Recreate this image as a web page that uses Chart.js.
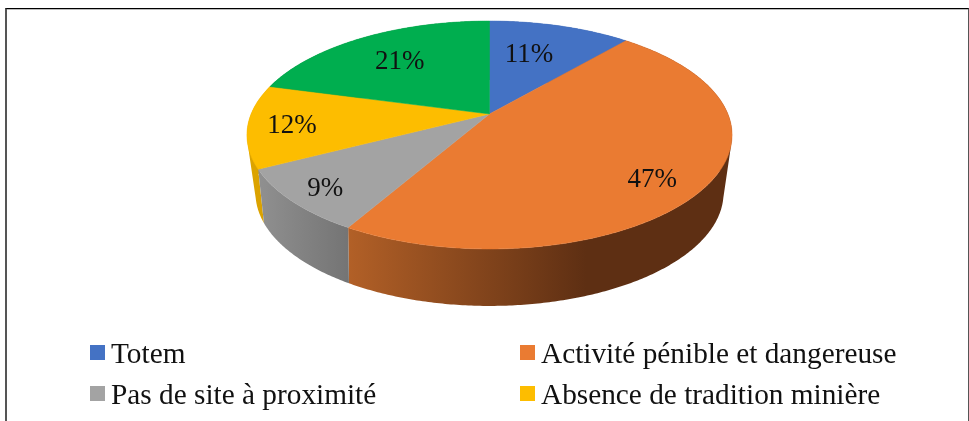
<!DOCTYPE html>
<html lang="fr">
<head>
<meta charset="utf-8">
<title>Pie chart</title>
<script src="https://cdn.jsdelivr.net/npm/chart.js@4"></script>
<style>
  html, body { margin: 0; padding: 0; background: #fff; }
  #wrap { position: relative; width: 969px; height: 421px; overflow: hidden; }
  #frame {
    position: absolute; left: 5px; top: 8px; width: 961px; height: 420px;
    border-top: 1px solid #000; border-left: 2px solid #555; border-right: 1px solid #555;
    box-shadow: inset 0 1px 0 #bbb;
  }
  canvas { position: absolute; left: 0; top: 0; }
  .legend-item {
    position: absolute; height: 30px; white-space: nowrap;
    font: 29.3px/30px "Liberation Serif", serif; color: #111;
  }
  .legend-box { position: absolute; left: -21px; top: 7px; width: 15px; height: 15px; }
</style>
</head>
<body>
<div id="wrap">
  <div id="frame"></div>
  <canvas id="pie" width="969" height="421"></canvas>
  <div id="legend"></div>
</div>
<script>
// the fifth slice has no readable legend entry, the legend is cut off in the picture
const categories = ["Totem", "Activité pénible et dangereuse", "Pas de site à proximité", "Absence de tradition minière", ""];
const shares = [11.3, 47, 9.1, 11.8, 20.8];
const sliceColors = ["#4472C4", "#EA7B32", "#A3A3A3", "#FDBD00", "#00AE4F"];

// side wall colours, left and right end of the gradient
const wallFrom = ["#2F5597", "#B26027", "#909090", "#DCA400", "#007C39"];
const wallTo = ["#2F5597", "#5E2F13", "#747474", "#D99F00", "#007C39"];

// where each percent label sits, as part of the radius and a turn in degrees
const labelRadius = [0.65, 0.81, 0.85, 0.82, 0.68];
const labelTurn = [-3.8, 5.2, 0, 0, 0];

// perspective of the disc, found by measuring the outline
const topFace = { x: 489.5, y: 114, a: 110.1, b: 238.4, tilt: 0.1842 };
const bottomFace = { x: 489.5, y: 168.1, a: 107.5, b: 228.3, tilt: 0.22 };

function project(face, angle, r) {
  const u = r * Math.sin(angle);
  const w = 1 - face.tilt * u;
  return { x: face.x + face.b * r * Math.cos(angle) / w, y: face.y + face.a * u / w };
}

function arcPoints(face, from, to) {
  const steps = Math.max(2, Math.ceil(Math.abs(to - from) / 0.01));
  const pts = [];
  for (let i = 0; i <= steps; i++) pts.push(project(face, from + (to - from) * i / steps, 1));
  return pts;
}

function addPolygon(ctx, pts) {
  pts.forEach((p, i) => (i ? ctx.lineTo(p.x, p.y) : ctx.moveTo(p.x, p.y)));
  ctx.closePath();
}

function signedArea(pts) {
  return pts.reduce((sum, p, i) => {
    const q = pts[(i + 1) % pts.length];
    return sum + p.x * q.y - q.x * p.y;
  }, 0);
}

// Draws the tilted disc from the angles the pie controller worked out
const discPlugin = {
  id: "discPlugin",
  beforeDatasetDraw(chart, args) {
    const { ctx } = chart;
    const arcs = chart.getDatasetMeta(args.index).data;
    ctx.save();

    // walls first, from the back to the front
    const order = arcs
      .map((arc, idx) => ({ arc, idx }))
      .sort((a, b) =>
        Math.sin((a.arc.startAngle + a.arc.endAngle) / 2) - Math.sin((b.arc.startAngle + b.arc.endAngle) / 2));
    order.forEach(({ arc, idx }) => {
      const upper = arcPoints(topFace, arc.startAngle, arc.endAngle);
      const lower = arcPoints(bottomFace, arc.startAngle, arc.endAngle);
      const xs = upper.concat(lower).map(p => p.x);
      const grad = ctx.createLinearGradient(Math.min(...xs), 0, Math.max(...xs), 0);
      grad.addColorStop(0, wallFrom[idx]);
      grad.addColorStop(idx === 1 ? 0.62 : 1, wallTo[idx]);
      if (idx === 1) grad.addColorStop(1, wallTo[idx]);
      ctx.fillStyle = grad;
      // strips swept along the rim, all in one path and wound the same way so no seams show
      ctx.beginPath();
      for (let i = 0; i < upper.length - 1; i++) {
        const strip = [upper[i], upper[i + 1], lower[i + 1], lower[i]];
        addPolygon(ctx, signedArea(strip) < 0 ? strip.reverse() : strip);
      }
      ctx.fill();
    });

    // top face
    arcs.forEach((arc, idx) => {
      const pts = [{ x: topFace.x, y: topFace.y }].concat(arcPoints(topFace, arc.startAngle, arc.endAngle));
      ctx.fillStyle = sliceColors[idx];
      ctx.strokeStyle = sliceColors[idx];
      ctx.lineWidth = 0.5;
      ctx.beginPath();
      addPolygon(ctx, pts);
      ctx.fill();
      ctx.stroke();
    });

    // percent labels
    ctx.font = '27px "Liberation Serif", serif';
    ctx.fillStyle = "#111";
    ctx.textAlign = "center";
    ctx.textBaseline = "middle";
    arcs.forEach((arc, idx) => {
      const mid = (arc.startAngle + arc.endAngle) / 2 + labelTurn[idx] * Math.PI / 180;
      const pos = project(topFace, mid, labelRadius[idx]);
      ctx.fillText(Math.round(shares[idx]) + "%", pos.x, pos.y + 2);
    });

    ctx.restore();
    return false;
  }
};

new Chart(document.getElementById("pie"), {
  type: "pie",
  data: {
    labels: categories,
    datasets: [{ data: shares, backgroundColor: sliceColors, borderWidth: 0 }]
  },
  options: {
    responsive: false,
    animation: false,
    plugins: {
      legend: { display: false },
      tooltip: { enabled: false }
    }
  },
  plugins: [discPlugin]
});

// Legend in two columns, only the entries that have a name
const legendElem = document.getElementById("legend");
const legendLeft = [111, 541];
const legendTop = [338, 379];
legendElem.innerHTML = categories
  .filter(name => name)
  .map((name, idx) => `
    <div class="legend-item" style="left:${legendLeft[idx % 2]}px;top:${legendTop[Math.floor(idx / 2)]}px;">
      <span class="legend-box" style="background:${sliceColors[idx]};"></span>${name}
    </div>
  `).join("");
</script>
</body>
</html>
